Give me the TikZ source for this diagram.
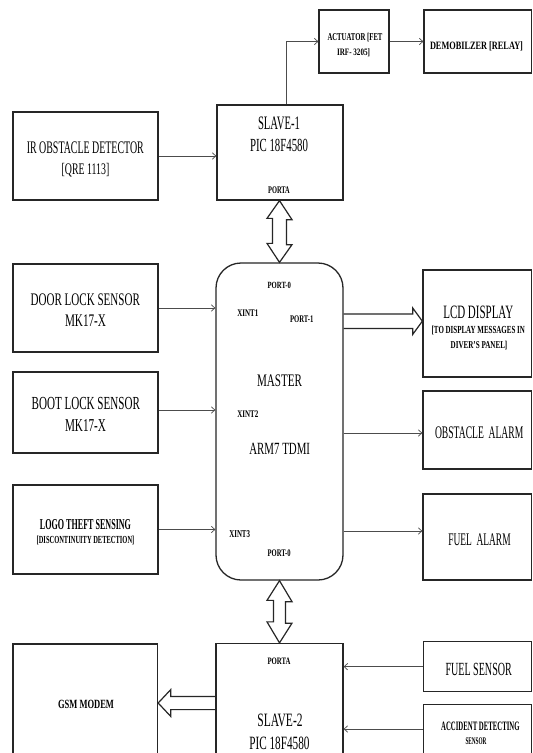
\documentclass[tikz,border=0pt]{standalone}
\usepackage{fontspec}
\setmainfont{Liberation Serif}
\usepackage{graphicx}
\usetikzlibrary{arrows.meta,fit,calc}
\newcommand{\txr}[3]{\resizebox{#1pt}{#2pt}{#3}}
\newcommand{\txb}[3]{\resizebox{#1pt}{#2pt}{\bfseries #3}}
\begin{document}
\begin{tikzpicture}[x=1pt,y=-1pt,
  box/.style={draw=black!85, line width=1.3pt, inner sep=0pt},
  txt/.style={inner sep=0pt, anchor=base},
  conn/.style={draw=black!70, line width=0.7pt, -{Straight Barb[length=3.5pt,width=6.5pt]}},
  blk/.style={draw=black!85, line width=1.2pt, line join=miter}]
\clip (0,0) rectangle (533,753);
\fill[white] (0,0) rectangle (533,753);

% boxes
\node[box, fit={(319,10) (389,73)}] (act) {};
\node[box, fit={(424,10) (531.8,73)}] (demob) {};
\node[box, fit={(217,105) (343,200)}] (slave1) {};
\node[box, fit={(13,112) (158,200)}] (ir) {};
\node[box, rounded corners=25pt, fit={(216,263) (343,580)}] (master) {};
\node[box, fit={(13,264) (158,352)}] (door) {};
\node[box, fit={(13,372) (158,453)}] (boot) {};
\node[box, fit={(13,485) (158,574)}] (logo) {};
\node[box, fit={(423,270) (531.8,377)}] (lcd) {};
\node[box, fit={(423,391) (531.8,469)}] (obst) {};
\node[box, fit={(423,494) (531.8,580)}] (fuelal) {};
\node[box, fit={(216,643.5) (343,762)}] (slave2) {};
\node[box, fit={(13,644) (157.5,762)}] (gsm) {};
\node[box, fit={(423.5,641.5) (531.8,691.8)}] (fuelsen) {};
\node[box, fit={(423.5,704.8) (531.8,762)}] (acc) {};

% texts
\node[txt] (act1) at (355,40.6) {\txb{55}{7.3}{ACTUATOR [FET}};
\node[txt] (act2) at (353.5,55.8) {\txb{33}{6.8}{IRF- 3205]}};
\node[txt] (demobt) at (476.5,49.2) {\txb{93}{7.8}{DEMOBILZER [RELAY]}};
\node[txt] (s1a) at (279,129.3) {\txr{42}{12.6}{SLAVE-1}};
\node[txt] (s1b) at (279,151.7) {\txr{58}{12.3}{PIC 18F4580}};
\node[txt] (s1c) at (279,193.3) {\txb{21.7}{6.7}{PORTA}};
\node[txt] (ir1) at (85.3,153.3) {\txr{117}{11.7}{IR OBSTACLE DETECTOR}};
\node[txt] (ir2) at (85.5,174.7) {\txr{47.7}{11.2}{[QRE 1113]}};
\node[txt] (d1) at (85.3,305) {\txr{109.3}{11.7}{DOOR LOCK SENSOR}};
\node[txt] (d2) at (85.5,326.7) {\txr{41}{11.7}{MK17-X}};
\node[txt] (b1) at (85.8,409.3) {\txr{108.3}{12.2}{BOOT LOCK SENSOR}};
\node[txt] (b2) at (85.5,431.7) {\txr{41}{12}{MK17-X}};
\node[txt] (m1) at (279.3,288.3) {\txb{23.3}{6.3}{PORT-0}};
\node[txt] (m2) at (247.8,316.7) {\txb{21}{6.7}{XINT1}};
\node[txt] (m3) at (301.7,322.7) {\txb{23.3}{6.7}{PORT-1}};
\node[txt] (m4) at (279.5,386.7) {\txr{45}{11.7}{MASTER}};
\node[txt] (m5) at (247.8,417.3) {\txb{21}{6.7}{XINT2}};
\node[txt] (m6) at (279.7,454) {\txr{60.7}{11.3}{ARM7 TDMI}};
\node[txt] (m7) at (239.7,537) {\txb{20.7}{7}{XINT3}};
\node[txt] (m8) at (279.2,556) {\txb{23}{6.7}{PORT-0}};
\node[txt] (l1) at (85.5,529.3) {\txb{91}{10}{LOGO THEFT SENSING}};
\node[txt] (l2) at (85.5,543.5) {\txb{97.7}{7.5}{[DISCONTINUITY DETECTION]}};
\node[txt] (lcd1) at (478.3,318.3) {\txr{70}{12.5}{LCD DISPLAY}};
\node[txt] (lcd2) at (478.3,333.5) {\txb{93.3}{7.5}{[TO DISPLAY MESSAGES IN}};
\node[txt] (lcd3) at (479,348) {\txb{56.7}{7.3}{DIVER'S PANEL]}};
\node[txt] (obt) at (479.2,438.3) {\txr{88.3}{11.7}{OBSTACLE~ ALARM}};
\node[txt] (fat) at (479.5,545) {\txr{62.3}{11.7}{FUEL~ ALARM}};
\node[txt] (s2a) at (279,664.8) {\txb{23}{6.5}{PORTA}};
\node[txt] (s2b) at (280,726.5) {\txr{45.2}{12.5}{SLAVE-2}};
\node[txt] (s2c) at (279.4,749) {\txr{60.2}{12.5}{PIC 18F4580}};
\node[txt] (gsmt) at (86,708.5) {\txb{56}{8.3}{GSM MODEM}};
\node[txt] (fst) at (478.7,675.2) {\txr{66.3}{12.3}{FUEL SENSOR}};
\node[txt] (ac1) at (480.4,730.7) {\txb{78.5}{8.5}{ACCIDENT DETECTING}};
\node[txt] (ac2) at (476,744.4) {\txb{21}{6.7}{SENSOR}};

% thin connectors
\draw[conn] ([xshift=6pt]slave1.north) |- (act.west);
\draw[conn] (act.east) -- (demob.west);
\draw[conn] (ir.east) -- (ir.east -| slave1.west);
\draw[conn] (door.east) -- (door.east -| master.west);
\draw[conn] ([yshift=2.5pt]boot.east) -- ([yshift=2.5pt]boot.east -| master.west);
\draw[conn] (logo.east) -- (logo.east -| master.west);
\draw[conn] ([yshift=-3pt]obst.west -| master.east) -- ([yshift=-3pt]obst.west);
\draw[conn] ([yshift=6pt]fuelal.west -| master.east) -- ([yshift=6pt]fuelal.west);
\draw[conn] (fuelsen.west) -- (fuelsen.west -| slave2.east);
\draw[conn] ([yshift=4.4pt]acc.west) -- ([yshift=4.4pt]acc.west -| slave2.east);

% block double arrows (vertical)
\draw[blk, fill=white] (master.north |- slave1.south) -- ++(12.5,19) -- ++(-5.5,0) -- ++(0,25) -- ++(5.5,0)
  -- (master.north) -- ++(-12.5,-19) -- ++(5.5,0) -- ++(0,-25) -- ++(-5.5,0) -- cycle;
\draw[blk, fill=white] (master.south) -- ++(12.5,21) -- ++(-6.5,0) -- ++(0,21.5) -- ++(6.5,0)
  -- (slave2.north) -- ++(-12.5,-21) -- ++(6.5,0) -- ++(0,-21.5) -- ++(-6.5,0) -- cycle;

% block arrows (horizontal)
\coordinate (t1) at ([yshift=2.3pt]lcd.west);
\path (t1) ++(-9.7,-7.2) coordinate (u1) ++(0,14.4) coordinate (u2);
\draw[blk] (u1 -| master.east) -- (u1) -- ++(0,-6.1) -- (t1) -- ($(u2)+(0,6.1)$) -- (u2) -- (u2 -| master.east);

\path (gsm.east) coordinate (t2) ++(12.5,-6.6) coordinate (u3) ++(0,13.2) coordinate (u4);
\draw[blk] (u3 -| slave2.west) -- (u3) -- ++(0,-6.7) -- (t2) -- ($(u4)+(0,6.7)$) -- (u4) -- (u4 -| slave2.west);
\end{tikzpicture}
\end{document}
